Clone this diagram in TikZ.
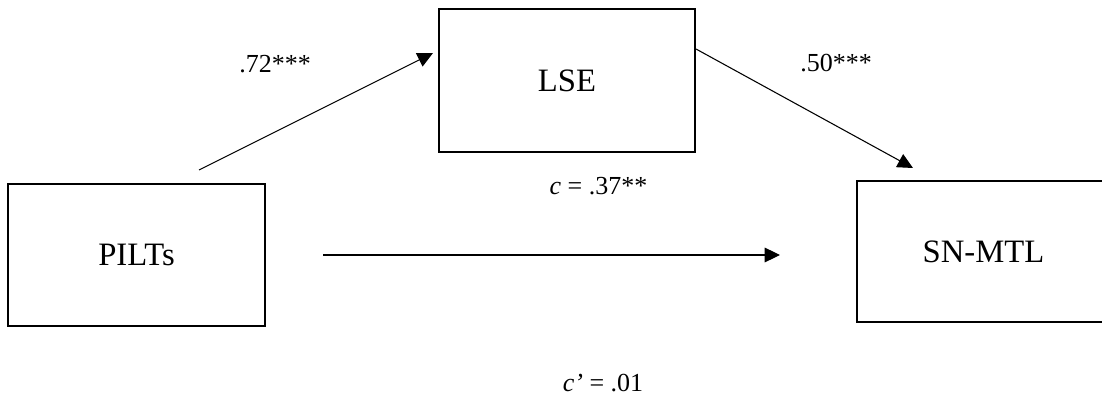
\documentclass[tikz,border=0pt]{standalone}
\usepackage{fontspec}
\setmainfont{Liberation Serif}
\usetikzlibrary{arrows.meta}
\begin{document}
\begin{tikzpicture}[x=0.75pt,y=-0.75pt,
  box/.style={draw, line width=1.6pt, inner sep=0pt, font=\fontsize{24.5}{29}\selectfont},
  conn/.style={line width=0.8pt, -{Triangle[length=11.5pt,width=11pt]}},
  lab/.style={anchor=base, inner sep=0pt, font=\fontsize{19.5}{23}\selectfont}]
\useasboundingbox (0,0) rectangle (1102,399);
\clip (0,0) rectangle (1102,399);
\node[box, minimum width=192.75pt, minimum height=106.5pt] (PILTs) at (136.5,255) {PILTs};
\node[box, minimum width=192pt, minimum height=107.25pt] (LSE) at (567,80.5) {LSE};
\node[box, minimum width=189.75pt, minimum height=105.75pt] (SNMTL) at (983.5,251.5) {SN-MTL};
\coordinate (a1) at (199,170);
\coordinate (a2) at (433,53);
\coordinate (b1) at (696,49);
\coordinate (b2) at (913,168);
\coordinate (c1) at (323,255);
\coordinate (c2) at (780,255);
\draw[conn] (a1) -- (a2);
\draw[conn] (b1) -- (b2);
\draw[conn] (c1) -- (c2);
\node[lab] (l1) at (275,73) {.72***};
\node[lab] (l2) at (836,72) {.50***};
\node[lab] (l3) at (598.5,195) {\textit{c} = .37**};
\node[lab] (l4) at (603,391) {\textit{c’} = .01};
\end{tikzpicture}
\end{document}
